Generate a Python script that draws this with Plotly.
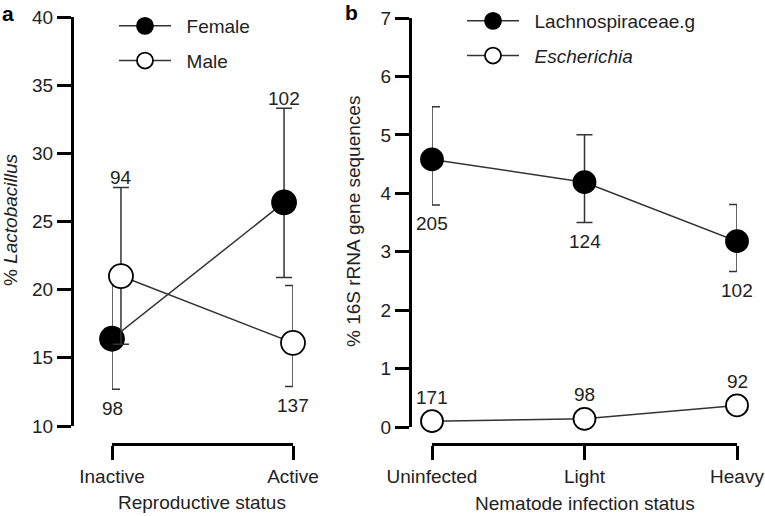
import plotly.graph_objects as go

# ---------------- data ----------------
repro_status = ["Inactive", "Active"]
female_mean = [16.4, 26.4]
female_upper = [21.3, 33.3]
female_lower = [12.7, 20.9]
female_n = [98, 102]
male_mean = [21.0, 16.1]
male_upper = [27.5, 20.3]
male_lower = [16.0, 12.9]
male_n = [94, 137]

infection_status = ["Uninfected", "Light", "Heavy"]
lachno_mean = [4.58, 4.19, 3.18]
lachno_upper = [5.48, 5.00, 3.81]
lachno_lower = [3.80, 3.50, 2.66]
lachno_n = [205, 124, 102]
esch_mean = [0.10, 0.14, 0.37]
esch_upper = [0.13, 0.19, 0.46]
esch_lower = [0.07, 0.10, 0.27]
esch_n = [171, 98, 92]

# ---------------- layout helpers ----------------
W, H = 765, 516
FONT = "Liberation Sans, Arial, Helvetica, sans-serif"
FS = 19
TXT = "#222222"
LINE = "#333333"
PAD = "&nbsp;&nbsp;"


def xf(px):
    return px / W


def yf(py):
    return 1 - py / H


dodge = 0.026
pos_a = [i + 1 for i in range(len(repro_status))]
pos_b = [i + 1 for i in range(len(infection_status))]

fig = go.Figure()


def add_series(x, mean, upper, lower, name, filled, xa, ya, legend, size):
    fig.add_trace(go.Scatter(
        x=x, y=mean, name=PAD + name, mode="lines+markers",
        xaxis=xa, yaxis=ya, legend=legend, legendgroup=name,
        line=dict(color=LINE, width=1.5),
        marker=dict(symbol="circle", size=size,
                    color="black" if filled else "white",
                    line=dict(color="black", width=1.8)),
        error_y=dict(type="data", symmetric=False,
                     array=[u - m for u, m in zip(upper, mean)],
                     arrayminus=[m - l for m, l in zip(mean, lower)],
                     color=LINE, thickness=1.5, width=8),
        cliponaxis=False,
    ))


def add_counts(x, mean, upper, lower, counts, where, xref, yref, shift):
    for xi, m, u, l, n, w in zip(x, mean, upper, lower, counts, where):
        if w == "above":
            yv, ys = u, shift[0]
        elif w == "below":
            yv, ys = l, -shift[1]
        else:
            yv, ys = m, shift[2]
        fig.add_annotation(x=xi, y=yv, xref=xref, yref=yref, text=str(n),
                           showarrow=False, yshift=ys, xanchor="center", yanchor="middle",
                           font=dict(family=FONT, size=FS, color=TXT))


# panel a
xa_f = [p - dodge for p in pos_a]
xa_m = [p + dodge for p in pos_a]
add_series(xa_f, female_mean, female_upper, female_lower, "Female", True, "x", "y", "legend", 24)
add_series(xa_m, male_mean, male_upper, male_lower, "Male", False, "x", "y", "legend", 24)
add_counts(xa_f, female_mean, female_upper, female_lower, female_n, ["below", "above"], "x", "y", (10, 19, 0))
add_counts(xa_m, male_mean, male_upper, male_lower, male_n, ["above", "below"], "x", "y", (10, 19, 0))

# panel b
add_series(pos_b, lachno_mean, lachno_upper, lachno_lower, "Lachnospiraceae.g", True, "x2", "y2", "legend2", 22)
add_series(pos_b, esch_mean, esch_upper, esch_lower, "<i>Escherichia</i>", False, "x2", "y2", "legend2", 22)
add_counts(pos_b, lachno_mean, lachno_upper, lachno_lower, lachno_n, ["below"] * 3, "x2", "y2", (10, 19, 0))
add_counts(pos_b, esch_mean, esch_upper, esch_lower, esch_n, ["mean"] * 3, "x2", "y2", (10, 19, 24))

axis_common = dict(showline=True, linecolor="black", linewidth=3,
                   ticks="outside", ticklen=14, tickwidth=3, tickcolor="black",
                   showgrid=False, zeroline=False, automargin=False,
                   tickfont=dict(family=FONT, size=FS, color=TXT))

legend_common = dict(xanchor="left", yanchor="top", bgcolor="rgba(0,0,0,0)",
                     font=dict(family=FONT, size=FS, color=TXT),
                     traceorder="grouped", tracegroupgap=7, itemwidth=52)

fig.update_layout(
    width=W, height=H,
    margin=dict(l=0, r=0, t=0, b=0),
    paper_bgcolor="white", plot_bgcolor="white",
    font=dict(family=FONT, size=FS, color=TXT),
    showlegend=True,
    xaxis=dict(axis_common, domain=[xf(112), xf(293)],
               range=[pos_a[0] - dodge, pos_a[-1] + dodge],
               anchor="free", position=yf(444),
               tickvals=[pos_a[0] - dodge, pos_a[-1] + dodge], ticktext=repro_status),
    yaxis=dict(axis_common, domain=[yf(426), yf(17)], range=[10, 40], dtick=5,
               anchor="free", position=xf(72)),
    xaxis2=dict(axis_common, domain=[xf(432), xf(737)],
                range=[pos_b[0], pos_b[-1]],
                anchor="free", position=yf(444),
                tickvals=pos_b, ticktext=infection_status),
    yaxis2=dict(axis_common, domain=[yf(427), yf(18)], range=[0, 7], dtick=1,
                anchor="free", position=xf(410)),
    legend=dict(legend_common, x=xf(114), y=yf(7)),
    legend2=dict(legend_common, x=xf(462), y=yf(2)),
)


# titles and panel letters
def note(x, y, text, size=FS, angle=0, color=TXT):
    fig.add_annotation(x=xf(x), y=yf(y), xref="paper", yref="paper", showarrow=False,
                       xanchor="center", yanchor="middle", text=text, textangle=angle,
                       font=dict(family=FONT, size=size, color=color))


note(202, 502, "Reproductive status")
note(585, 503, "Nematode infection status")
note(10, 220, "% <i>Lactobacillus</i>", angle=-90)
note(353, 222, "% 16S rRNA gene sequences", angle=-90)
note(8, 13, "<b>a</b>", size=21, color="black")
note(351, 12, "<b>b</b>", size=21, color="black")

fig.write_html("out.html", config={"displayModeBar": False},
               post_script="document.body.style.margin='0';")
